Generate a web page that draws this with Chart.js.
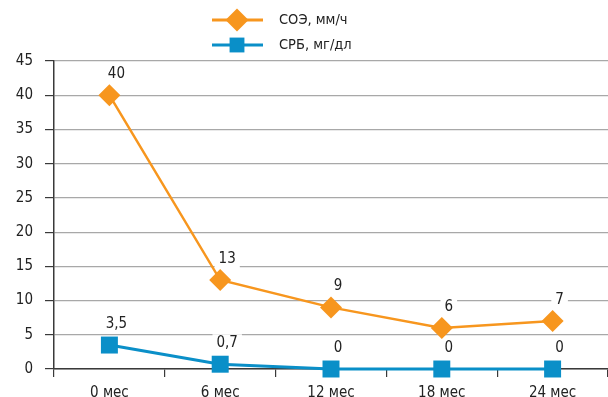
<!DOCTYPE html>
<html><head><meta charset="utf-8">
<script src="https://cdn.jsdelivr.net/npm/chart.js@4.4.1/dist/chart.umd.min.js"></script>
<style>html,body{margin:0;padding:0;background:#fff;overflow:hidden}#wrap{position:relative;width:608px;height:397px}canvas{display:block}</style>
</head><body>
<div id="wrap"><canvas id="c"></canvas></div>
<script>
// ---- data ----
const categories = ['0 мес', '6 мес', '12 мес', '18 мес', '24 мес'];
const seriesNames = ['СОЭ, мм/ч', 'СРБ, мг/дл'];
const soeValues = [40, 13, 9, 6, 7];
const crpValues = [3.5, 0.7, 0, 0, 0];
const yMin = 0, yMax = 45, yStep = 5;

// ---- styles ----
const FONT = '"DejaVu Sans Condensed", "DejaVu Sans", sans-serif';
const TEXT = '#222222';
const ORANGE = '#F7961E';
const BLUE = '#0A8FC8';

const fmt = v => String(v).replace('.', ',');

const labelPlugin = {
  id: 'pointLabels',
  beforeDatasetsDraw(chart) {
    const ctx = chart.ctx;
    ctx.save();
    ctx.font = '15px ' + FONT;
    ctx.textAlign = 'center';
    ctx.textBaseline = 'middle';
    chart.data.datasets.forEach((ds, i) => {
      const meta = chart.getDatasetMeta(i);
      meta.data.forEach((el, j) => {
        const t = fmt(ds.data[j]);
        const x = el.x + 7, y = el.y - 21;
        const w = ctx.measureText(t).width;
        ctx.fillStyle = '#fff';
        ctx.fillRect(x - w / 2 - 4, y - 9, w + 8, 18);
        ctx.fillStyle = TEXT;
        ctx.fillText(t, x, y);
      });
    });
    ctx.restore();
  }
};

const legendPlugin = {
  id: 'customLegend',
  afterDraw(chart) {
    const ctx = chart.ctx;
    ctx.save();
    const rows = [20, 45];
    chart.data.datasets.forEach((ds, i) => {
      const y = rows[i];
      ctx.strokeStyle = ds.borderColor;
      ctx.lineWidth = 3;
      ctx.beginPath();
      ctx.moveTo(212, y);
      ctx.lineTo(263, y);
      ctx.stroke();
      ctx.fillStyle = ds.backgroundColor;
      ctx.strokeStyle = ds.backgroundColor;
      Chart.helpers.drawPoint(ctx, {pointStyle: ds.pointStyle, radius: i === 0 ? 11.5 : 10.5, borderWidth: 0}, 237, y);
      ctx.fillStyle = TEXT;
      ctx.font = '14.5px ' + FONT;
      ctx.textAlign = 'left';
      ctx.textBaseline = 'middle';
      ctx.fillText(seriesNames[i], 279, y);
    });
    ctx.restore();
  }
};

new Chart(document.getElementById('c'), {
  type: 'line',
  data: {
    labels: categories,
    datasets: [
      {
        label: seriesNames[0],
        data: soeValues,
        borderColor: ORANGE,
        backgroundColor: ORANGE,
        borderWidth: 2.5,
        pointStyle: 'rectRot',
        pointRadius: 11,
        pointBorderWidth: 0,
        pointHoverRadius: 11,
        tension: 0,
        clip: false,
        order: 1
      },
      {
        label: seriesNames[1],
        data: crpValues,
        borderColor: BLUE,
        backgroundColor: BLUE,
        borderWidth: 3,
        pointStyle: 'rect',
        pointRadius: 12,
        pointBorderWidth: 0,
        pointHoverRadius: 12,
        tension: 0,
        clip: false,
        order: 2
      }
    ]
  },
  options: {
    responsive: true,
    maintainAspectRatio: false,
    devicePixelRatio: 1,
    animation: false,
    layout: {autoPadding: false, padding: {top: 61, right: 0, bottom: 0, left: 0}},
    plugins: {legend: {display: false}, tooltip: {enabled: false}},
    scales: {
      x: {
        offset: true,
        grid: {display: true, drawOnChartArea: false, drawTicks: true, tickLength: 8, color: '#3a3a3a', lineWidth: 1.2, offset: true},
        border: {display: true, color: '#3a3a3a', width: 1.5},
        ticks: {color: TEXT, font: {family: FONT, size: 15}, padding: 7, maxRotation: 0},
        afterFit(s) { s.height = 28; s.paddingLeft = 0; s.paddingRight = 0; }
      },
      y: {
        min: yMin, max: yMax,
        grid: {color: '#a8a8a8', lineWidth: 1.2, tickLength: 9, tickColor: '#3a3a3a'},
        border: {display: true, color: '#3a3a3a', width: 1.5},
        ticks: {stepSize: yStep, color: TEXT, font: {family: FONT, size: 15}, padding: 12},
        afterFit(s) { s.width = 54; }
      }
    }
  },
  plugins: [labelPlugin, legendPlugin]
});
</script>
</body></html>
